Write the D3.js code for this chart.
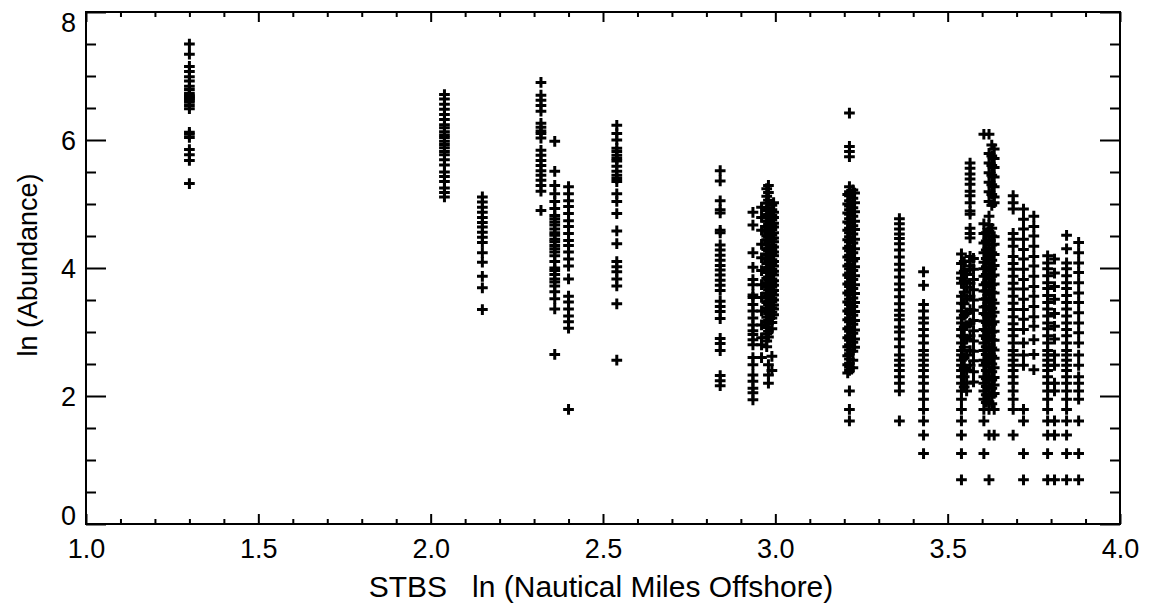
<!DOCTYPE html>
<html><head><meta charset="utf-8">
<script src="https://cdn.jsdelivr.net/npm/d3@7"></script>
<style>
body{margin:0;background:#fff;}
svg{display:block;}
text{font-family:"Liberation Sans",Arial,sans-serif;fill:#000;}
</style>
</head><body>
<svg id="chart" width="1150" height="607"></svg>
<script>
// ---- axis text ----
const xTickValues = [1.0, 1.5, 2.0, 2.5, 3.0, 3.5, 4.0];
const xTickLabels = ["1.0", "1.5", "2.0", "2.5", "3.0", "3.5", "4.0"];
const yTickValues = [0, 2, 4, 6, 8];
const yTickLabels = ["0", "2", "4", "6", "8"];
const xTitle = "STBS   ln (Nautical Miles Offshore)";
const yTitle = "ln (Abundance)";

// ---- data: ln(nautical miles offshore) of each station column ----
const stationX = [1.30, 2.04, 2.15, 2.32, 2.36, 2.40, 2.54, 2.84, 2.935, 2.96, 2.98, 2.995,
  3.215, 3.23, 3.36, 3.43, 3.54, 3.555, 3.565, 3.605, 3.62, 3.635, 3.69, 3.72, 3.75,
  3.79, 3.81, 3.845, 3.88,
  2.975, 2.99, 3.225, 3.21, 3.628, 3.612, 3.548, 3.575];

// ln(abundance) values observed in each column
const abund_130 = [7.50, 7.34, 7.15, 7.07, 6.99, 6.92, 6.84, 6.79, 6.73, 6.70, 6.68, 6.66, 6.64, 6.62, 6.59, 6.54, 6.49, 6.12, 6.09, 6.04, 5.85, 5.77, 5.68, 5.32];
const abund_204 = [6.71, 6.64, 6.56, 6.48, 6.40, 6.32, 6.24, 6.19, 6.13, 6.08, 6.04, 5.98, 5.93, 5.88, 5.82, 5.77, 5.69, 5.61, 5.50, 5.43, 5.35, 5.25, 5.18, 5.11];
const abund_215 = [5.11, 5.03, 4.95, 4.87, 4.79, 4.71, 4.64, 4.56, 4.48, 4.40, 4.24, 4.09, 3.87, 3.69, 3.35];
const abund_232 = [6.90, 6.70, 6.62, 6.54, 6.45, 6.26, 6.20, 6.14, 6.10, 6.03, 5.84, 5.76, 5.68, 5.60, 5.52, 5.45, 5.37, 5.29, 5.20, 4.90];
const abund_236 = [5.98, 5.51, 5.29, 5.16, 5.04, 4.93, 4.82, 4.77, 4.72, 4.67, 4.61, 4.55, 4.51, 4.45, 4.41, 4.35, 4.30, 4.25, 4.19, 4.10, 4.00, 3.96, 3.90, 3.83, 3.78, 3.72, 3.63, 3.52, 3.36, 2.65];
const abund_240 = [5.27, 5.16, 5.05, 4.96, 4.85, 4.74, 4.65, 4.54, 4.43, 4.35, 4.25, 4.14, 4.03, 3.83, 3.56, 3.47, 3.36, 3.25, 3.16, 3.06, 1.79];
const abund_254 = [6.23, 6.10, 6.00, 5.87, 5.82, 5.76, 5.71, 5.67, 5.59, 5.51, 5.45, 5.40, 5.35, 5.16, 5.04, 4.85, 4.58, 4.38, 4.10, 4.02, 3.94, 3.83, 3.72, 3.44, 2.56];
const abund_284 = [5.52, 5.36, 5.05, 4.91, 4.86, 4.59, 4.55, 4.36, 4.28, 4.20, 4.12, 4.04, 3.97, 3.89, 3.81, 3.73, 3.65, 3.48, 3.40, 3.32, 3.21, 2.90, 2.82, 2.71, 2.32, 2.24, 2.16];
const abund_2935 = [4.87, 4.67, 4.24, 4.01, 3.82, 3.74, 3.58, 3.54, 3.43, 3.33, 3.22, 3.11, 3.02, 2.96, 2.88, 2.80, 2.60, 2.49, 2.33, 2.23, 2.12, 2.05, 1.94];
const abund_296 = [4.95, 4.79, 4.59, 4.37, 4.16, 3.96, 3.74, 3.54, 3.33, 3.11, 2.91, 2.80, 2.60];
const abund_298 = [5.29, 5.18, 5.06, 4.93, 4.84, 4.78, 4.69, 4.63, 4.54, 4.48, 4.41, 4.31, 4.26, 4.16, 4.11, 4.01, 3.96, 3.86, 3.81, 3.71, 3.66, 3.58, 3.49, 3.43, 3.34, 3.28, 3.18, 3.13, 3.01, 2.92, 2.49, 2.33, 2.20];
const abund_2995 = [5.02, 4.87, 4.79, 4.70, 4.64, 4.55, 4.47, 4.41, 4.33, 4.25, 4.19, 4.10, 4.03, 3.95, 3.89, 3.80, 3.73, 3.65, 3.58, 3.50, 3.42, 3.36, 3.27];
const abund_3215 = [6.42, 5.90, 5.82, 5.74, 5.27, 5.19, 5.13, 5.05, 4.97, 4.91, 4.84, 4.77, 4.70, 4.62, 4.55, 4.49, 4.41, 4.34, 4.27, 4.20, 4.13, 4.06, 3.99, 3.92, 3.85, 3.78, 3.71, 3.64, 3.58, 3.51, 3.43, 3.36, 3.29, 3.22, 3.16, 3.08, 3.01, 2.94, 2.87, 2.80, 2.72, 2.66, 2.58, 2.51, 2.45, 2.40, 2.08, 1.79, 1.61];
const abund_323 = [5.17, 5.02, 4.88, 4.73, 4.60, 4.45, 4.30, 4.15, 4.02, 3.88, 3.74, 3.60, 3.46, 3.32, 3.18, 3.03, 2.89, 2.76];
const abund_336 = [4.77, 4.69, 4.61, 4.53, 4.46, 4.38, 4.28, 4.17, 4.06, 3.97, 3.86, 3.75, 3.66, 3.55, 3.44, 3.34, 3.26, 3.19, 3.08, 3.00, 2.89, 2.77, 2.64, 2.56, 2.48, 2.40, 2.30, 2.20, 2.08, 1.61];
const abund_343 = [3.94, 3.73, 3.43, 3.33, 3.22, 3.14, 3.04, 2.94, 2.83, 2.71, 2.64, 2.56, 2.48, 2.40, 2.30, 2.20, 2.08, 1.95, 1.79, 1.61, 1.39, 1.10];
const abund_354 = [4.22, 4.07, 3.92, 3.84, 3.76, 3.56, 3.45, 3.33, 3.22, 3.14, 3.04, 2.94, 2.83, 2.71, 2.64, 2.56, 2.48, 2.40, 2.30, 2.20, 2.08, 1.95, 1.79, 1.61, 1.39, 1.10, 0.69];
const abund_3555 = [3.90, 3.70, 3.52, 3.30, 3.10, 2.89, 2.64, 2.40, 2.20, 2.08];
const abund_3565 = [5.64, 5.56, 5.47, 5.39, 5.31, 5.20, 5.13, 5.02, 4.89, 4.84, 4.62, 4.54, 4.47, 4.18, 4.11, 4.03, 3.98, 3.76, 3.56, 3.35, 3.14, 2.94, 2.71, 2.48];
const abund_3605 = [6.09, 4.69, 4.54, 4.39, 4.24, 4.09, 3.99, 3.87, 3.74, 3.64, 3.51, 3.39, 3.29, 3.17, 3.04, 2.94, 2.83, 2.71, 2.56, 2.48, 2.30, 2.20, 2.08, 1.95, 1.79, 1.61, 1.10];
const abund_362 = [6.09, 5.79, 5.64, 5.49, 5.34, 5.19, 5.04, 4.81, 4.67, 4.57, 4.44, 4.31, 4.19, 4.07, 3.95, 3.83, 3.71, 3.59, 3.47, 3.35, 3.23, 3.11, 2.99, 2.87, 2.75, 2.63, 2.51, 2.39, 2.27, 2.15, 2.03, 1.91, 1.79, 1.39, 0.69];
const abund_3635 = [5.86, 5.71, 5.57, 5.42, 5.27, 5.11, 5.02, 4.49, 4.37, 4.21, 4.04, 3.89, 3.75, 3.61, 3.45, 3.31, 3.16, 3.01, 2.87, 2.72, 2.59, 2.44, 2.29, 2.17, 2.04, 1.79, 1.39];
const abund_369 = [5.13, 5.02, 4.92, 4.54, 4.45, 4.34, 4.18, 4.07, 3.98, 3.87, 3.76, 3.67, 3.56, 3.45, 3.35, 3.24, 3.13, 3.04, 2.94, 2.83, 2.71, 2.64, 2.56, 2.48, 2.40, 2.30, 2.20, 2.08, 1.95, 1.79, 1.39];
const abund_372 = [4.92, 4.76, 4.61, 4.45, 4.29, 4.14, 3.98, 3.82, 3.67, 3.51, 3.35, 3.20, 3.04, 2.83, 2.64, 2.48, 1.79, 1.61, 1.10, 0.69];
const abund_375 = [4.81, 4.65, 4.50, 4.34, 4.18, 4.03, 3.87, 3.71, 3.56, 3.40, 3.24, 3.09, 2.88, 2.65, 2.41];
const abund_379 = [4.19, 4.08, 3.99, 3.88, 3.77, 3.68, 3.57, 3.46, 3.36, 3.25, 3.14, 3.05, 2.94, 2.83, 2.71, 2.64, 2.56, 2.48, 2.40, 2.30, 2.20, 2.08, 1.95, 1.79, 1.61, 1.39, 1.10, 0.69];
const abund_381 = [4.14, 3.92, 3.71, 3.51, 3.29, 3.09, 2.89, 2.64, 2.48, 2.20, 2.08, 1.61, 1.39, 0.69];
const abund_3845 = [4.51, 4.30, 4.08, 3.99, 3.88, 3.77, 3.68, 3.57, 3.46, 3.36, 3.25, 3.14, 3.04, 2.94, 2.83, 2.71, 2.64, 2.56, 2.48, 2.40, 2.30, 2.20, 2.08, 1.95, 1.79, 1.61, 1.39, 1.10, 0.69];
const abund_388 = [4.40, 4.24, 4.08, 3.93, 3.77, 3.61, 3.46, 3.30, 3.14, 2.99, 2.83, 2.64, 2.48, 2.30, 2.20, 2.08, 1.95, 1.61, 1.10, 0.69];
// extra samples inside the solid dense bands
const abund_2975 = [5.24, 5.12, 5.01, 4.90, 4.82, 4.73, 4.65, 4.58, 4.50, 4.44, 4.36, 4.29, 4.21, 4.15, 4.07, 3.99, 3.93, 3.84, 3.77, 3.70, 3.61, 3.55, 3.46, 3.38, 3.32, 3.23, 3.16, 3.07, 2.97, 2.86, 2.77];
const abund_299 = [4.98, 4.91, 4.82, 4.75, 4.67, 4.60, 4.51, 4.45, 4.36, 4.29, 4.22, 4.13, 4.06, 3.98, 3.92, 3.83, 3.76, 3.70, 3.61, 3.53, 3.47, 3.38, 3.31, 3.22, 3.15, 3.05, 2.62, 2.40];
const abund_3225 = [5.22, 5.09, 4.94, 4.81, 4.66, 4.53, 4.39, 4.24, 4.11, 3.96, 3.82, 3.68, 3.53, 3.40, 3.26, 3.12, 2.98, 2.84, 2.70, 2.56, 2.44];
const abund_321 = [5.15, 5.00, 4.86, 4.72, 4.59, 4.44, 4.31, 4.17, 4.03, 3.89, 3.75, 3.61, 3.47, 3.33, 3.19, 3.05, 2.91, 2.77, 2.63, 2.49, 2.36];
const abund_3628 = [5.92, 5.75, 5.60, 5.45, 5.30, 5.15, 4.98, 4.62, 4.50, 4.36, 4.24, 4.12, 3.99, 3.87, 3.74, 3.62, 3.50, 3.37, 3.25, 3.12, 3.00, 2.88, 2.75, 2.62, 2.50, 2.38, 2.25, 2.12, 2.00, 1.88];
const abund_3612 = [4.55, 4.42, 4.28, 4.15, 4.02, 3.90, 3.77, 3.64, 3.52, 3.40, 3.27, 3.15, 3.02, 2.90, 2.77, 2.65, 2.52, 2.40, 2.27, 2.15, 2.02, 1.90];
const abund_3548 = [4.10, 3.95, 3.80, 3.62, 3.44, 3.26, 3.08, 2.92, 2.76, 2.60, 2.44, 2.30, 2.14];
const abund_3575 = [4.15, 3.98, 3.82, 3.66, 3.50, 3.34, 3.18, 3.02, 2.86, 2.70, 2.55, 2.38, 2.22];

const stationAbund = [abund_130, abund_204, abund_215, abund_232, abund_236, abund_240, abund_254,
  abund_284, abund_2935, abund_296, abund_298, abund_2995, abund_3215, abund_323, abund_336,
  abund_343, abund_354, abund_3555, abund_3565, abund_3605, abund_362, abund_3635, abund_369,
  abund_372, abund_375, abund_379, abund_381, abund_3845, abund_388,
  abund_2975, abund_299, abund_3225, abund_321, abund_3628, abund_3612, abund_3548, abund_3575];

// ---- layout ----
const plotL = 86, plotR = 1120, plotT = 12, plotB = 524;

const svg = d3.select("#chart");
const x = d3.scaleLinear().domain([1, 4]).range([plotL, plotR]);
const y = d3.scaleLinear().domain([0, 8]).range([plotB, plotT]);

const points = [];
stationX.forEach((sx, i) => stationAbund[i].forEach(v => points.push({x: sx, y: v})));

// markers
const plusType = {
  draw(ctx, size) {
    const r = Math.sqrt(size) / 2;
    ctx.moveTo(-r, 0); ctx.lineTo(r, 0);
    ctx.moveTo(0, -r); ctx.lineTo(0, r);
  }
};
const sym = d3.symbol().type(plusType).size(115);
svg.append("g").selectAll("path").data(points).join("path")
  .attr("transform", d => `translate(${x(d.x)},${y(d.y)})`)
  .attr("d", sym)
  .attr("fill", "none")
  .attr("stroke", "#000")
  .attr("stroke-width", 3);

// minor tick values
const xMinor = d3.range(11, 40).map(v => v / 10).filter(v => Math.abs(v * 2 - Math.round(v * 2)) > 1e-6);
const yMinor = d3.range(1, 16).map(v => v / 2).filter(v => v % 2 !== 0);

function styleAxis(g) {
  g.select(".domain").remove();
  g.selectAll(".tick line").attr("stroke", "#000").attr("stroke-width", 2);
}

// bottom
const gxB = svg.append("g").attr("transform", `translate(0,${plotB})`)
  .call(d3.axisBottom(x).tickValues(xTickValues).tickSize(-10).tickPadding(15)
    .tickFormat((d, i) => xTickLabels[i]));
styleAxis(gxB);
gxB.selectAll("text").attr("font-size", 27).attr("font-family", "Liberation Sans, Arial, sans-serif").attr("fill", "#000");
svg.append("g").attr("transform", `translate(0,${plotB})`)
  .call(d3.axisBottom(x).tickValues(xMinor).tickSize(-5).tickFormat(""))
  .call(styleAxis);
// top
svg.append("g").attr("transform", `translate(0,${plotT})`)
  .call(d3.axisTop(x).tickValues(xTickValues).tickSize(-10).tickFormat(""))
  .call(styleAxis);
svg.append("g").attr("transform", `translate(0,${plotT})`)
  .call(d3.axisTop(x).tickValues(xMinor).tickSize(-5).tickFormat(""))
  .call(styleAxis);
// left
const gyL = svg.append("g").attr("transform", `translate(${plotL},0)`)
  .call(d3.axisLeft(y).tickValues(yTickValues).tickSize(-20).tickPadding(10)
    .tickFormat((d, i) => yTickLabels[i]));
styleAxis(gyL);
gyL.selectAll("text").attr("font-size", 27).attr("font-family", "Liberation Sans, Arial, sans-serif").attr("fill", "#000")
  .attr("dy", (d, i) => i === 0 ? "0.0em" : (i === yTickValues.length - 1 ? "0.72em" : "0.35em"));
svg.append("g").attr("transform", `translate(${plotL},0)`)
  .call(d3.axisLeft(y).tickValues(yMinor).tickSize(-10).tickFormat(""))
  .call(styleAxis);
// right
svg.append("g").attr("transform", `translate(${plotR},0)`)
  .call(d3.axisRight(y).tickValues(yTickValues).tickSize(-20).tickFormat(""))
  .call(styleAxis);
svg.append("g").attr("transform", `translate(${plotR},0)`)
  .call(d3.axisRight(y).tickValues(yMinor).tickSize(-10).tickFormat(""))
  .call(styleAxis);

// frame
svg.append("rect")
  .attr("x", plotL).attr("y", plotT)
  .attr("width", plotR - plotL).attr("height", plotB - plotT)
  .attr("fill", "none").attr("stroke", "#000").attr("stroke-width", 2);

// titles
svg.append("text")
  .attr("x", (plotL + plotR) / 2 - 2).attr("y", 597)
  .attr("text-anchor", "middle")
  .attr("font-size", 30)
  .style("white-space", "pre")
  .text(xTitle);
svg.append("text")
  .attr("transform", `translate(37,${(plotT + plotB) / 2 - 3}) rotate(-90)`)
  .attr("text-anchor", "middle")
  .attr("font-size", 27)
  .style("white-space", "pre")
  .text(yTitle);
</script>
</body></html>
